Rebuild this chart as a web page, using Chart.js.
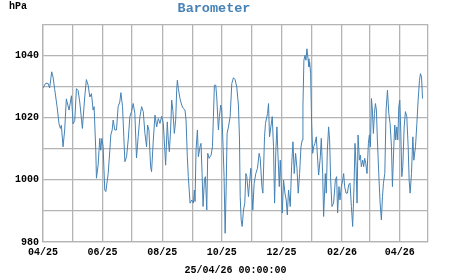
<!DOCTYPE html>
<html>
<head>
<meta charset="utf-8">
<script src="https://cdn.jsdelivr.net/npm/chart.js@4/dist/chart.umd.min.js"></script>
<style>
  body { margin: 0; background: #fff; }
  #wrap { width: 451px; height: 275px; }
</style>
</head>
<body>
<div id="wrap"><canvas id="baro-graph"></canvas></div>
<script>
// days since 2025-04-01, and pressure in hPa
var days = [
  0, 2.7, 5.1, 6.8, 8.9, 10.3, 12, 14.4, 16.4, 17.8, 18.8, 20.5, 22.2, 23.9, 26.7, 29.1, 30.8, 32.5, 34.2, 35.9,
  37.6, 40.3, 42.7, 44.4, 46.2, 47.9, 49.6, 51.3, 52.3, 54, 54.7, 56.4, 58.1, 59.1, 60.2, 61.5, 63.2, 64.3, 66.7, 68.4,
  69.4, 70.8, 71.8, 73.5, 75.2, 76.9, 78.6, 79.7, 81.4, 82.7, 83.8, 85.5, 87.2, 88.9, 90.6, 92.3, 94, 95.7, 97.4,
  99.2, 100.9, 102.6, 104.3, 106, 107, 108.4, 110.1, 111.1, 112.9, 114.6, 116.3, 118, 119.7, 121.4, 123.1, 124.1, 125.5,
  127.2, 128.2, 129.3, 130.6, 131.7, 133, 134.4, 135.8, 136.8, 137.5, 138.5, 140.2, 141.9, 143.6, 145.3, 146.4, 147.7,
  148.7, 150.5, 152.2, 153.9, 154.9, 155.6, 156.6, 158, 159, 160.7, 161.7, 162.8, 163.8, 165.2, 166.2, 167.6, 168.6,
  170, 172, 173.4, 174.4, 175.4, 176.8, 177.8, 178.8, 179.5, 180.5, 181.9, 182.9, 184.3, 185.3, 186.4, 187.4, 188.4,
  189.8, 191.5, 193.2,
  194.9, 196.6, 198.3, 200, 201.1, 201.8, 202.8, 203.8, 205.2, 206.5, 207.6, 208.6, 210.3, 211.3, 212.7, 213.7, 214.7,
  216.1, 217.8, 219.5, 221.2, 222.3, 224, 225, 226.7, 227.7, 229.8, 230.8, 231.8, 233.2, 234.6, 235.9, 237, 238.3,
  239.4, 240.4, 241.8, 242.8, 243.8, 244.8, 246.2, 247.6, 248.9, 250, 251.3, 253, 254.4, 255.8, 257.1, 258.5, 259.9,
  261.2, 262.6, 264, 265.3, 266, 267, 268.1, 269.1, 270.1, 271.2, 272.2, 272.9, 273.9, 274.9, 276, 277, 278.3, 279.7,
  281.1, 282.1, 283.8, 284.8, 286.2, 287.2,
  288.9, 289.9, 291, 292.3, 293.3, 294.4, 295.7, 297.4, 299.2, 300.5, 301.5, 302.9, 303.9, 305.3, 306.7, 307.7, 308.7,
  310.1, 311.5, 312.8, 314.2, 315.6, 316.9, 318.3, 319.3, 320.4, 321.4, 322.4, 323.8, 324.8, 325.8, 327.2, 328.2, 329.2,
  330.3, 331.6, 333, 334, 335.1, 336.1, 337.1, 338.1, 339.2, 340.2, 341.2, 342.2, 343.6, 345, 346.3, 347.4, 348.4, 349.8,
  351.1, 352.5, 353.9, 355.2, 356.6, 357.6, 359, 360, 361, 362.1, 363.1, 364.1, 365.1, 366.2, 367.2, 368.2, 369.6, 370.9,
  372.3, 373.7, 374.7, 375.7, 377.1, 378.5, 379.5, 381.2, 382.6, 383.9, 385.3, 386.3, 387.4, 388.4
];
var pressure = [
  1029.5, 1031, 1031, 1029.5, 1034.7, 1033, 1029, 1023.5, 1018, 1016.5, 1017.5, 1010.6, 1016, 1026, 1022.4, 1027, 1018, 1019, 1029.3, 1028.7,
  1025, 1016.5, 1026.6, 1032.2, 1030.4, 1026.6, 1027.7, 1022.4, 1023.5, 1009.5, 1000.5, 1004.7, 1013.3, 1009.5, 1013.3, 1010.6, 996.7, 996.2, 1002, 1009.5,
  1014.4, 1016, 1019.2, 1016, 1016, 1023.5, 1025, 1028, 1023.5, 1013.9, 1005.8, 1007.4, 1012.8, 1020.3, 1021.9, 1024.5, 1021.3, 1007, 1013.9,
  1020.3, 1023.5, 1021.9, 1014.9, 1010.6, 1017.6, 1016, 1004.2, 1002.6, 1012.8, 1020.8, 1017, 1019.7, 1018.1, 1020.4, 1018.1, 1012.8, 1004.7,
  1018.6, 1012.8, 1009, 1016, 1025.6, 1021.9, 1014.9, 1019.2, 1028.8, 1032, 1029.3, 1026.1, 1024, 1022.9, 1022.4, 1019.2, 1007.4,
  1001, 992.5, 993.5, 992.5, 996.7, 993, 1009.5, 1016, 1007.4, 1010.6, 1011.7, 1002, 991.4, 1000, 1001, 990.3, 1008.5,
  1006.9, 1007.9, 1010.6, 1020.3, 1030.4, 1030.4, 1026.6, 1020.3, 1016, 1020.3, 1024, 1022.4, 1010.6, 1001, 982.8, 996.7, 1014.9,
  1017, 1020.3, 1030.9,
  1032.8, 1032.2, 1029.8, 1024, 1012.8, 994.6, 987.1, 985, 990.3, 992.5, 1002, 1001, 994.6, 998.9, 1003.7, 996.7, 990.3,
  998.9, 1002, 1003.7, 1008.5, 1006.9, 997.8, 995.7, 1013.8, 1018.1, 1021.3, 1024.5, 1013.8, 1017, 1020.3, 1010.6, 992.5, 1009.5,
  1017, 1008.5, 997.8, 1006.3, 998.9, 989.3, 999.9, 995.7, 993.5, 988.7, 996.7, 991.4, 1004.2, 1012.2, 1002, 1008.5, 1003.7,
  995.7, 1002, 1010.6, 1012.8, 1023.4, 1038.4, 1040, 1038.4, 1042.1, 1038.9, 1036.3, 1037.9, 1034.1, 1018.1, 1008.5, 1010.6, 1011.7, 1013.8,
  1006.3, 1001.5, 1007.4, 1013.3, 1002, 988.2,
  1002, 995.7, 1009.5, 1017, 1012.8, 999.9, 991.4, 992.5, 999.9, 1001, 989.3, 997.8, 993.5, 997.8, 999.9, 1002, 997.8,
  995.7, 995.7, 998.3, 998.9, 991.4, 985, 997.8, 1011.7, 1004.2, 992.5, 1014.4, 1006.3, 1007.9, 1004.2, 1006.3, 1004.2, 1006.9,
  1005.3, 1002, 1011.7, 1014.4, 1010.6, 1026.1, 1022.4, 1014.9, 1021.3, 1024.5, 1022.4, 1012.8, 1002, 992.5, 987.1, 994.6, 998.9, 1002,
  1022.4, 1028.8, 1021.3, 1018.1, 1010.6, 997.8, 1010.6, 1017.6, 1012.8, 1017, 1012.8, 1023.4, 1025.6, 1014.9, 1001, 1004.2, 1017, 1021.9,
  1020.3, 1010.6, 999.9, 995.7, 1002, 1013.8, 1006.3, 1010.6, 1018.1, 1025.6, 1032, 1034.1, 1033, 1026.1
];

// month starts (days since 2025-04-01) and their labels, every other one shown
var monthDays = [0, 30, 61, 91, 122, 153, 183, 214, 244, 275, 306, 334, 365];
var monthLabels = ['04/25', '', '06/25', '', '08/25', '', '10/25', '', '12/25', '', '02/26', '', '04/26'];
var xMax = 394;
var yLabels = [980, 1000, 1020, 1040];

var monoBold = { family: "'Liberation Mono', 'DejaVu Sans Mono', monospace", weight: 'bold' };
var gridGray = '#b4b4b4';

// little plugin for the unit text in the upper left corner
var unitLabel = {
  id: 'unitLabel',
  afterDraw: function(chart) {
    var c = chart.ctx;
    c.save();
    c.font = "bold 10px 'Liberation Mono', 'DejaVu Sans Mono', monospace";
    c.fillStyle = '#000';
    c.textBaseline = 'middle';
    c.fillText('hPa', 9, 6);
    c.restore();
  }
};

var ctx = document.getElementById('baro-graph').getContext('2d');
var baroGraph = new Chart(ctx, {
  type: 'line',
  data: {
    datasets: [
      {
        label: 'Barometer',
        data: days.map(function(d, i) { return { x: d, y: pressure[i] }; }),
        borderColor: '#4682b4',
        borderWidth: 1,
        pointRadius: 0,
        tension: 0,
        fill: false
      }
    ]
  },
  options: {
    responsive: true,
    maintainAspectRatio: false,
    animation: false,
    layout: { padding: { left: 0, right: 23, top: 0, bottom: 0 } },
    plugins: {
      legend: { display: false },
      tooltip: { enabled: false },
      title: {
        display: true,
        text: 'Barometer',
        color: '#4682b4',
        font: Object.assign({ size: 13.5 }, monoBold),
        padding: { top: 0, bottom: 8 }
      }
    },
    scales: {
      x: {
        type: 'linear',
        min: 0,
        max: xMax,
        afterBuildTicks: function(scale) {
          scale.ticks = monthDays.concat([xMax]).map(function(v) { return { value: v }; });
        },
        afterFit: function(scale) { scale.height = 33; },
        grid: { color: gridGray, lineWidth: 1.3, drawTicks: false },
        border: { display: true, color: gridGray, width: 1.3 },
        ticks: {
          color: '#000',
          padding: 4,
          maxRotation: 0,
          autoSkip: false,
          font: Object.assign({ size: 10 }, monoBold),
          callback: function(value) {
            var i = monthDays.indexOf(value);
            return i >= 0 ? monthLabels[i] : '';
          }
        },
        title: {
          display: true,
          text: '25/04/26 00:00:00',
          color: '#000',
          font: Object.assign({ size: 10 }, monoBold),
          padding: { top: 0, bottom: -1.5 }
        }
      },
      y: {
        min: 980,
        max: 1050,
        afterFit: function(scale) { scale.width = 43; },
        grid: { color: gridGray, lineWidth: 1.3, drawTicks: false },
        border: { display: true, color: gridGray, width: 1.3 },
        ticks: {
          stepSize: 10,
          color: '#000',
          padding: 4,
          font: Object.assign({ size: 10 }, monoBold),
          callback: function(value) {
            return yLabels.indexOf(value) >= 0 ? String(value) : '';
          }
        }
      }
    }
  },
  plugins: [unitLabel]
});
</script>
</body>
</html>
